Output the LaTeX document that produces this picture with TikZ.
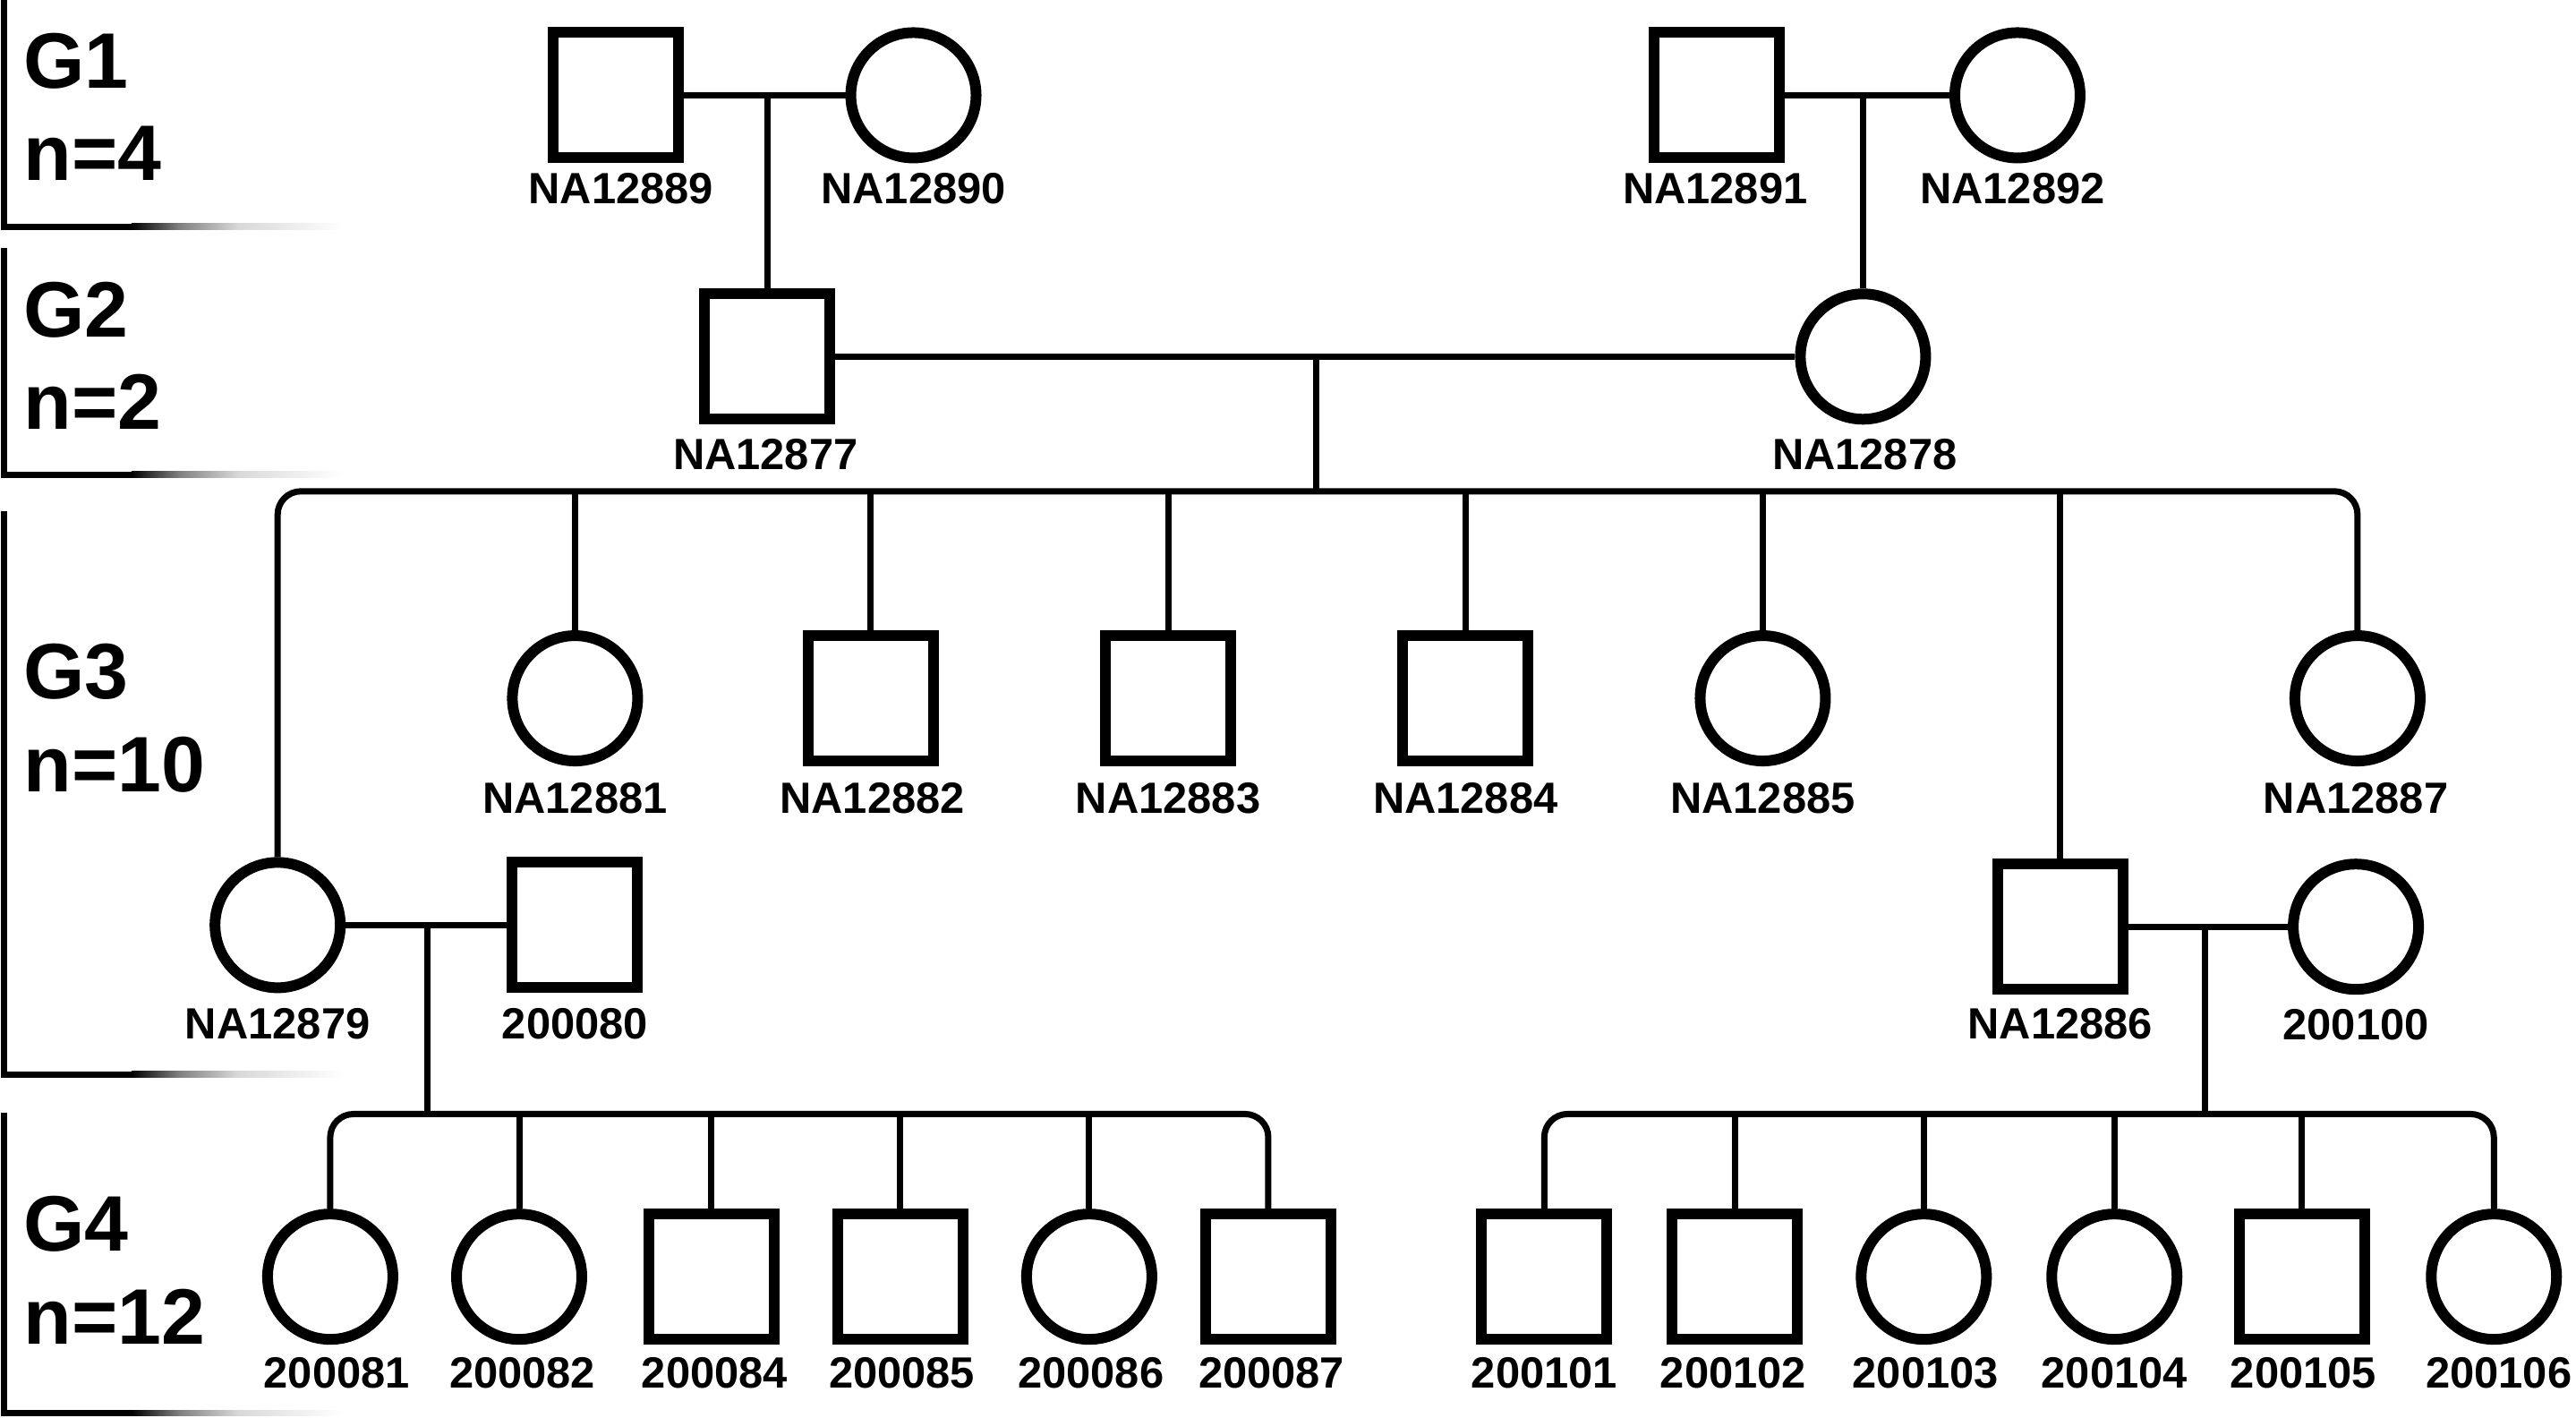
\documentclass[tikz,border=0pt]{standalone}
\usepackage{fontspec}
\setmainfont{Liberation Sans}
\begin{document}
\begin{tikzpicture}[x=0.018355cm, y=-0.018355cm,
  male/.style={draw, rectangle, line width=0.12cm, minimum size=1.40cm, inner sep=0pt},
  female/.style={draw, circle, line width=0.12cm, minimum size=1.40cm, inner sep=0pt},
  lbl/.style={anchor=base, font=\fontsize{13.9}{16}\selectfont\bfseries, inner sep=0pt},
  gen/.style={anchor=base west, font=\fontsize{25}{30}\selectfont\bfseries, inner sep=0pt},
  link/.style={line width=0.07cm},
  sib/.style={line width=0.07cm, rounded corners=0.26cm},
  brk/.style={line width=0.07cm}]
\useasboundingbox (0,0) rectangle (1568,863);

% generation brackets
\foreach \ya/\yb in {0/138, 151/289, 311/654, 677/860}{
  \draw[brk] (2.7,\ya) -- (2.7,\yb) -- (80,\yb);
  \shade[left color=black, right color=black!50] (80,\yb-1.9) rectangle (109,\yb+1.9);
  \shade[left color=black!50, right color=black!15] (109,\yb-1.9) rectangle (145,\yb+1.9);
  \shade[left color=black!15, right color=white] (145,\yb-1.9) rectangle (209,\yb+1.9);
}
\node[gen] (g1a) at (14,53.5) {G1};
\node[gen] (g1b) at (14,110) {n=4};
\node[gen] (g2a) at (14,205) {G2};
\node[gen] (g2b) at (14,261) {n=2};
\node[gen] (g3a) at (14,425) {G3};
\node[gen] (g3b) at (14,482) {n=10};
\node[gen] (g4a) at (14,761.5) {G4};
\node[gen] (g4b) at (14,818) {n=12};

% G1
\node[male]   (p89) at (375,58) {};
\node[female] (p90) at (556,58) {};
\node[male]   (p91) at (1045,58) {};
\node[female] (p92) at (1228,58) {};
\node[lbl] (l89) at (378,124) {NA12889};
\node[lbl] (l90) at (556,124) {NA12890};
\node[lbl] (l91) at (1044,124) {NA12891};
\node[lbl] (l92) at (1225,124) {NA12892};

% G2
\node[male]   (p77) at (467,217) {};
\node[female] (p78) at (1134,217) {};
\node[lbl] (l77) at (466,286) {NA12877};
\node[lbl] (l78) at (1135,286) {NA12878};

\draw[link] (p89.east) -- (p90.west);
\draw[link] (p91.east) -- (p92.west);
\draw[link] (p77.north) -- (p77.north |- p89.east);
\draw[link] (p78.north) -- (p78.north |- p91.east);
\draw[link] (p77.east) -- (p78.west);
\coordinate (s3) at (801,299);
\draw[link] (s3 |- p77.east) -- (s3);

% G3
\node[female] (p81) at (350,425) {};
\node[male]   (p82) at (530,425) {};
\node[male]   (p83) at (711,425) {};
\node[male]   (p84) at (892,425) {};
\node[female] (p85) at (1073,425) {};
\node[female] (p87) at (1435,425) {};
\node[female] (p79) at (169,563) {};
\node[male]   (p80) at (350,563) {};
\node[male]   (p86) at (1254,564) {};
\node[female] (p100) at (1434,564) {};
\node[lbl] (l81) at (350,495) {NA12881};
\node[lbl] (l82) at (531,495) {NA12882};
\node[lbl] (l83) at (711,495) {NA12883};
\node[lbl] (l84) at (892,495) {NA12884};
\node[lbl] (l85) at (1073,495) {NA12885};
\node[lbl] (l87) at (1434,495) {NA12887};
\node[lbl] (l79) at (169,632) {NA12879};
\node[lbl] (l80) at (350,632) {200080};
\node[lbl] (l86) at (1254,632) {NA12886};
\node[lbl] (l100) at (1434,633) {200100};

\draw[sib] (p79.north) |- (s3) -| (p87.north);
\foreach \c in {p81,p82,p83,p84,p85,p86}{
  \draw[link] (\c.north) -- (\c.north |- s3);
}
\draw[link] (p79.east) -- (p80.west);
\draw[link] (p86.east) -- (p100.west);
\coordinate (s4a) at (260,678);
\coordinate (s4b) at (1342,678);
\draw[link] (s4a |- p79.east) -- (s4a);
\draw[link] (s4b |- p86.east) -- (s4b);

% G4
\node[female] (c81) at (201,777) {};
\node[female] (c82) at (316,777) {};
\node[male]   (c84) at (433,777) {};
\node[male]   (c85) at (548,777) {};
\node[female] (c86) at (663,777) {};
\node[male]   (c87) at (772,777) {};
\node[male]   (c101) at (940,777) {};
\node[male]   (c102) at (1056,777) {};
\node[female] (c103) at (1171,777) {};
\node[female] (c104) at (1287,777) {};
\node[male]   (c105) at (1401,777) {};
\node[female] (c106) at (1518,777) {};
\node[lbl] (k81) at (205,845) {200081};
\node[lbl] (k82) at (318,845) {200082};
\node[lbl] (k84) at (435,845) {200084};
\node[lbl] (k85) at (549,845) {200085};
\node[lbl] (k86) at (664,845) {200086};
\node[lbl] (k87) at (774,845) {200087};
\node[lbl] (k101) at (940,845) {200101};
\node[lbl] (k102) at (1055,845) {200102};
\node[lbl] (k103) at (1172,845) {200103};
\node[lbl] (k104) at (1287,845) {200104};
\node[lbl] (k105) at (1402,845) {200105};
\node[lbl] (k106) at (1521,845) {200106};

\draw[sib] (c81.north) |- (s4a) -| (c87.north);
\foreach \c in {c82,c84,c85,c86}{
  \draw[link] (\c.north) -- (\c.north |- s4a);
}
\draw[sib] (c101.north) |- (s4b) -| (c106.north);
\foreach \c in {c102,c103,c104,c105}{
  \draw[link] (\c.north) -- (\c.north |- s4b);
}
\end{tikzpicture}
\end{document}
